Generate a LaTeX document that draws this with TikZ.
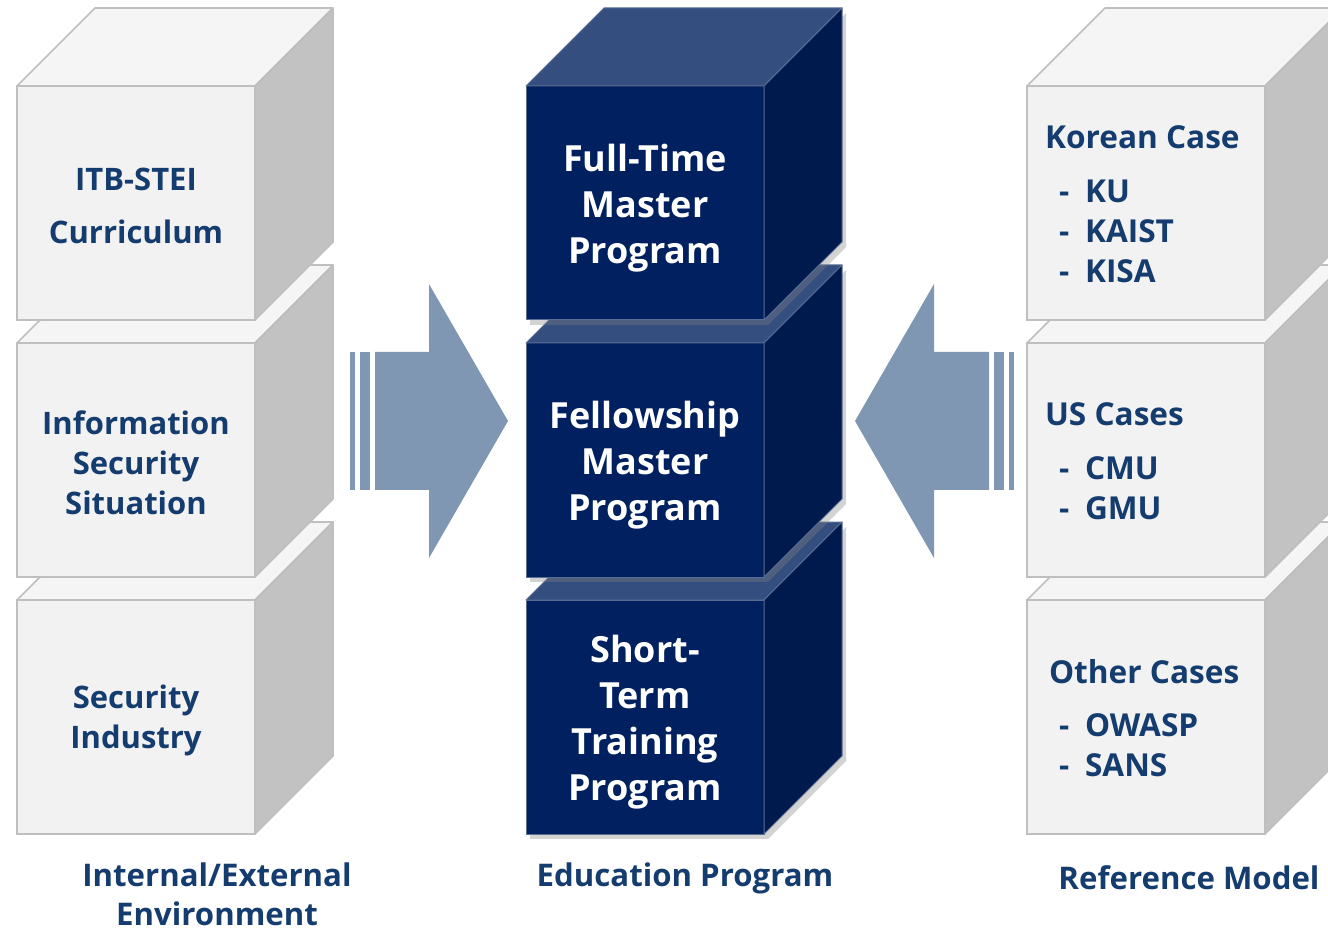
\documentclass[tikz,border=0pt]{standalone}
\usepackage{fontspec}
\setmainfont{Open Sans}
\usepackage{xcolor}
\usetikzlibrary{positioning}
\usetikzlibrary{shadows}

\definecolor{palegray}{HTML}{F2F2F2}
\definecolor{edgegray}{HTML}{BFBFBF}
\definecolor{sidegray}{HTML}{C2C2C2}
\definecolor{navyfront}{HTML}{002060}
\definecolor{navytop}{HTML}{344E7F}
\definecolor{navyside}{HTML}{001A4D}
\definecolor{navyedge}{HTML}{5A6E94}
\definecolor{inkblue}{HTML}{143C6E}
\definecolor{arrowblue}{HTML}{7F97B2}

\tikzset{
	light front/.style={draw=edgegray, fill=palegray, line width=0.8pt, anchor=north west,
		minimum width=119pt, minimum height=117pt, inner sep=0pt, outer sep=0pt},
	light top/.style={draw=edgegray, fill=palegray!80!white, line width=0.8pt, line join=round},
	light side/.style={draw=edgegray, fill=sidegray, line width=0.8pt, line join=round},
	light text/.style={text=inkblue, align=center, yshift=-1.5pt, font=\fontsize{15.5}{20}\selectfont\bfseries},
	dark front/.style={draw=navyedge, fill=navyfront, line width=0.5pt, anchor=north west,
		minimum width=119pt, minimum height=117pt, inner sep=0pt, outer sep=0pt,
		drop shadow={shadow xshift=2pt, shadow yshift=-2.5pt, opacity=.35}},
	dark top/.style={draw=navyedge, fill=navytop, line width=0.5pt, line join=round},
	dark side/.style={draw=navyedge, fill=navyside, line width=0.5pt, line join=round,
		drop shadow={shadow xshift=2pt, shadow yshift=-2.5pt, opacity=.35}},
	dark text/.style={text=white, align=center, yshift=-2.5pt, font=\fontsize{18}{23}\selectfont\bfseries},
	case title/.style={anchor=west, text=inkblue, font=\fontsize{15.8}{20}\selectfont\bfseries},
	case list/.style={anchor=west, align=left, text=inkblue, font=\fontsize{15.8}{20}\selectfont\bfseries},
	caption/.style={text=inkblue, align=center, font=\fontsize{15.6}{19.5}\selectfont\bfseries},
	bigarrow/.style={fill=arrowblue},
}

% front face as a node, then top and side faces, then the text
\newcommand{\cube}[5]{%
	\node[#4 front] (#1) at (#2,#3) {};
	\filldraw[#4 top] (#1.north west) -- ++(78,-78) -- ++(238,0) -- (#1.north east) -- cycle;
	\filldraw[#4 side] (#1.north east) -- ++(78,-78) -- ++(0,234) -- (#1.south east) -- cycle;
	\node[#4 text] (#1-text) at (#1.center) {#5};
}

\begin{document}
\begin{tikzpicture}[x=0.5pt, y=-0.5pt]
	\useasboundingbox (0,0) rectangle (1328,930);

	% internal / external environment
	\cube{industry}{17}{600}{light}{Security\\Industry}
	\cube{situation}{17}{343}{light}{Information\\Security\\Situation}
	\cube{curriculum}{17}{86}{light}{ITB-STEI\\[6.5pt]Curriculum}

	% education program
	\cube{shortterm}{526}{600}{dark}{Short-\\Term\\Training\\Program}
	\cube{fellowship}{526}{343}{dark}{Fellowship\\Master\\Program}
	\cube{fulltime}{526}{86}{dark}{Full-Time\\Master\\Program}

	% reference model
	\cube{othercase}{1027}{600}{light}{}
	\cube{uscase}{1027}{343}{light}{}
	\cube{koreancase}{1027}{86}{light}{}

	\node[case title] (korean) at (1038,137) {Korean Case};
	\node[case list] (koreanlist) at (1052,231) {-\enspace KU\\-\enspace KAIST\\-\enspace KISA};
	\node[case title] (us) at (1038,414) {US Cases};
	\node[case list] (uslist) at (1052,488) {-\enspace CMU\\-\enspace GMU};
	\node[case title] (other) at (1042,672) {Other Cases};
	\node[case list] (otherlist) at (1052,745) {-\enspace OWASP\\-\enspace SANS};

	% arrows into the program
	\fill[bigarrow] (350,352) rectangle (355,490);
	\fill[bigarrow] (360,352) rectangle (370,490);
	\fill[bigarrow] (375,352) -- (429,352) -- (429,284) -- (508,421) -- (429,558) -- (429,490) -- (375,490) -- cycle;

	\fill[bigarrow] (855,421) -- (934,284) -- (934,352) -- (989,352) -- (989,490) -- (934,490) -- (934,558) -- cycle;
	\fill[bigarrow] (994,352) rectangle (1004,490);
	\fill[bigarrow] (1009,352) rectangle (1014,490);

	\node[caption] (envlabel) at (217,894) {Internal/External\\Environment};
	\node[caption] (edulabel) at (685,878) {Education Program};
	\node[caption] (reflabel) at (1189,878) {Reference Model};
\end{tikzpicture}
\end{document}
